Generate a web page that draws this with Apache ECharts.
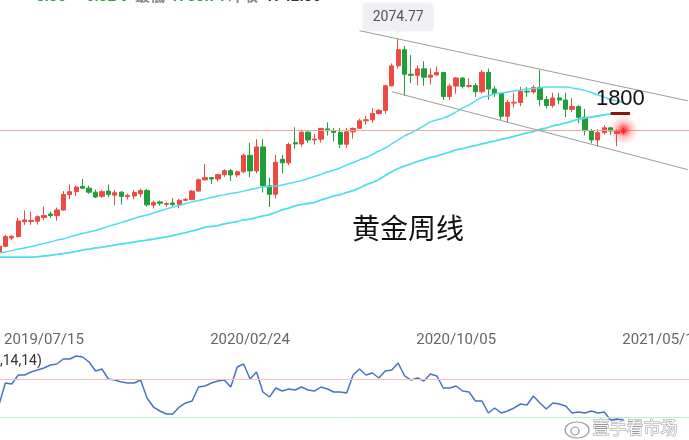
<!DOCTYPE html>
<html><head><meta charset="utf-8">
<script src="https://cdn.jsdelivr.net/npm/echarts@6/dist/echarts.min.js"></script>
<style>html,body{margin:0;padding:0;background:#fff;overflow:hidden}#c{width:689px;height:440px}</style>
</head><body><div id="c"></div>
<script>
// Weekly categories (Mondays)
const categories = [
'2019/05/27','2019/06/03','2019/06/10','2019/06/17','2019/06/24','2019/07/01','2019/07/08','2019/07/15','2019/07/22','2019/07/29',
'2019/08/05','2019/08/12','2019/08/19','2019/08/26','2019/09/02','2019/09/09','2019/09/16','2019/09/23','2019/09/30','2019/10/07',
'2019/10/14','2019/10/21','2019/10/28','2019/11/04','2019/11/11','2019/11/18','2019/11/25','2019/12/02','2019/12/09','2019/12/16',
'2019/12/23','2019/12/30','2020/01/06','2020/01/13','2020/01/20','2020/01/27','2020/02/03','2020/02/10','2020/02/17','2020/02/24',
'2020/03/02','2020/03/09','2020/03/16','2020/03/23','2020/03/30','2020/04/06','2020/04/13','2020/04/20','2020/04/27','2020/05/04',
'2020/05/11','2020/05/18','2020/05/25','2020/06/01','2020/06/08','2020/06/15','2020/06/22','2020/06/29','2020/07/06','2020/07/13',
'2020/07/20','2020/07/27','2020/08/03','2020/08/10','2020/08/17','2020/08/24','2020/08/31','2020/09/07','2020/09/14','2020/09/21',
'2020/09/28','2020/10/05','2020/10/12','2020/10/19','2020/10/26','2020/11/02','2020/11/09','2020/11/16','2020/11/23','2020/11/30',
'2020/12/07','2020/12/14','2020/12/21','2020/12/28','2021/01/04','2021/01/11','2021/01/18','2021/01/25','2021/02/01','2021/02/08',
'2021/02/15','2021/02/22','2021/03/01','2021/03/08','2021/03/15','2021/03/22','2021/03/29','2021/04/05','2021/04/12','2021/04/19',
'2021/04/26','2021/05/03','2021/05/10','2021/05/17','2021/05/24','2021/05/31','2021/06/07','2021/06/14'
];
const xTickLabels = ['2019/07/15','2020/02/24','2020/10/05','2021/05/17'];

// [open, close, low, high]
const candles = [
[1284,1305,1274,1306],[1305,1341,1302,1348],[1336,1342,1327,1347],[1341,1399,1338,1411],[1396,1403,1384,1438],
[1397,1401,1385,1433],[1398,1415,1386,1420],[1412,1419,1402,1453],[1425,1419,1411,1433],[1419,1440,1400,1449],
[1440,1497,1437,1510],[1497,1508,1480,1535],[1508,1525,1492,1531],[1527,1521,1517,1555],[1521,1506,1500,1530],
[1506,1488,1484,1516],[1491,1508,1485,1515],[1510,1497,1487,1535],[1495,1504,1458,1515],[1506,1490,1460,1510],
[1490,1494,1479,1500],[1492,1505,1480,1514],[1500,1512,1488,1519],[1512,1459,1452,1518],[1458,1468,1445,1475],
[1470,1465,1456,1475],[1461,1464,1452,1469],[1466,1460,1454,1484],[1460,1476,1446,1481],[1476,1479,1473,1485],
[1478,1510,1477,1514],[1510,1552,1508,1557],[1552,1560,1549,1611],[1560,1555,1536,1562],[1555,1571,1546,1575],
[1571,1586,1563,1591],[1586,1570,1548,1592],[1570,1582,1562,1586],[1582,1643,1577,1649],[1643,1585,1562,1689],
[1585,1674,1576,1703],[1674,1530,1505,1703],[1530,1498,1451,1560],[1498,1617,1482,1645],[1628,1615,1576,1645],
[1615,1683,1606,1690],[1690,1685,1668,1747],[1685,1729,1675,1738],[1729,1700,1689,1733],[1700,1703,1683,1722],
[1703,1743,1690,1744],[1741,1734,1716,1765],[1734,1728,1695,1744],[1728,1684,1670,1745],[1684,1730,1671,1744],
[1730,1743,1705,1746],[1743,1771,1742,1779],[1771,1775,1757,1789],[1775,1798,1763,1818],[1798,1810,1795,1815],
[1810,1901,1797,1905],[1901,1975,1899,1984],[1975,2035,1965,2074.77],[2035,1944,1863,2049],[1944,1940,1911,2015],
[1940,1964,1902,1977],[1964,1933,1901,1992],[1933,1941,1906,1966],[1941,1950,1940,1973],[1950,1861,1848,1952],
[1861,1900,1849,1908],[1900,1930,1872,1933],[1930,1899,1891,1933],[1899,1902,1894,1929],[1902,1879,1860,1911],
[1879,1951,1872,1960],[1951,1889,1850,1965],[1889,1872,1860,1900],[1872,1788,1775,1875],[1788,1839,1764,1848],
[1837,1840,1820,1875],[1839,1881,1825,1897],[1881,1878,1860,1896],[1878,1895,1871,1903],[1895,1850,1825,1959],
[1850,1828,1817,1864],[1828,1856,1820,1875],[1856,1848,1832,1875],[1848,1814,1785,1875],[1814,1824,1803,1855],
[1824,1784,1762,1829],[1784,1734,1717,1815],[1734,1700,1687,1741],[1700,1727,1676,1740],[1727,1745,1720,1755],
[1745,1733,1719,1748],[1724,1731,1677,1740],[1729,1737,1721,1745]
];

const maFast = [
1280,1284,1289,1295,1299,1304,1310,1315,1321,1328,
1332,1340,1347,1353,1358,1364,1371,1379,1386,1393,
1401,1408,1416,1421,1429,1436,1444,1451,1457,1464,
1470,1475,1481,1486,1492,1496,1501,1505,1510,1516,
1521,1525,1527,1529,1533,1538,1544,1549,1557,1564,
1572,1581,1588,1596,1607,1616,1626,1635,1646,1659,
1670,1685,1700,1715,1726,1739,1752,1767,1774,1781,
1791,1804,1819,1830,1845,1858,1863,1871,1874,1878,
1882,1885,1889,1891,1893,1897,1897,1897,1897,1893,
1889,1884,1876,1867,1859,1850,1845,1837
];
const maSlow = [
1265,1265,1265,1265,1265,1265,1267,1269,1271,1275,
1278,1282,1286,1291,1295,1299,1302,1306,1310,1314,
1317,1321,1325,1328,1332,1336,1340,1345,1351,1356,
1362,1368,1375,1379,1382,1388,1393,1397,1403,1406,
1412,1418,1423,1431,1440,1447,1455,1460,1464,1468,
1477,1484,1492,1497,1505,1512,1522,1533,1542,1553,
1568,1582,1594,1603,1611,1620,1627,1635,1640,1648,
1655,1663,1668,1674,1679,1685,1691,1696,1702,1707,
1713,1720,1726,1731,1739,1744,1752,1757,1763,1770,
1776,1781,1785,1789,1793,1796,1796,1796
];
const oscillator = [
39.4,73.7,72.1,86.1,86.1,90.8,93.9,97.0,101.7,103.2,
111.0,111.0,115.7,114.1,106.3,92.3,95.4,79.9,78.3,75.2,
73.7,73.7,78.3,50.3,36.3,30.1,25.4,25.4,36.3,42.6,
45.7,67.4,69.0,73.7,76.8,78.3,67.4,98.6,103.2,79.9,
90.8,59.7,51.9,65.9,61.2,64.3,62.8,67.4,62.8,61.2,
67.4,64.3,59.7,59.7,58.1,86.1,95.4,86.1,89.2,81.4,
92.3,93.9,104.8,84.6,78.3,81.4,76.8,87.7,84.6,65.9,
65.9,69.0,61.2,59.7,45.7,45.7,27.0,34.8,27.0,30.1,
34.8,41.0,39.4,53.4,42.6,33.2,42.6,41.0,37.9,27.0,
28.6,27.0,30.1,27.0,28.6,16.1,17.7,16.1
];
const oscBands = [80, 20];
const lastPrice = 1737.24;
const peakHigh = 2074.77;
const resistance = 1800;
const resistanceSpan = [95, 98];
const channelUpper = [[56, 2105.6], [107, 1845.3]];
const channelLower = [[61, 1879.1], [107, 1589.5]];
const headerTexts = [
  {t:'-5.56', c:'#21a33a', x:30}, {t:'-0.32%', c:'#21a33a', x:80}, {t:'最低', c:'#888', x:135},
  {t:'1733.71', c:'#21a33a', x:170}, {t:'昨收', c:'#888', x:228}, {t:'1742.80', c:'#333', x:265}
];

const RED = '#ec4a43', GREEN = '#1f9e3a', CYAN = '#4fdfe9';
const chart = echarts.init(document.getElementById('c'), null, {renderer:'canvas', devicePixelRatio:1});
const gridL = -4.3, gridW = 695.5;

const graphics = [
  {type:'text', left:352, top:214, style:{text:'黄金周线', fill:'#111', font:'28px "Noto Sans CJK SC", sans-serif'}},
  {type:'text', left:0, top:354, style:{text:',14,14)', fill:'#333', font:'14px Roboto, sans-serif'}},
  {type:'ellipse', shape:{cx:577, cy:430, rx:12, ry:8}, style:{fill:'rgba(255,255,255,0.85)', stroke:'rgba(110,110,110,0.7)', lineWidth:1.2}},
  {type:'circle', shape:{cx:575, cy:431, r:4}, style:{fill:'none', stroke:'rgba(110,110,110,0.7)', lineWidth:1.2}},
  {type:'text', left:592, top:419, style:{text:'壹手看市场', fill:'rgba(255,255,255,0.9)', stroke:'rgba(120,120,120,0.75)', lineWidth:1, font:'17px "Noto Sans CJK SC", sans-serif'}}
];
headerTexts.forEach(h => graphics.push({type:'text', left:h.x, top:-10, style:{text:h.t, fill:h.c, font:'bold 15px Roboto, "Noto Sans CJK SC", sans-serif'}}));

chart.setOption({
  animation:false,
  backgroundColor:'#fff',
  grid:[
    {left:gridL, width:gridW, top:0, height:330, containLabel:false, outerBoundsMode:'none'},
    {left:gridL, width:gridW, top:350, height:90, containLabel:false, outerBoundsMode:'none'}
  ],
  xAxis:[
    {type:'category', gridIndex:0, data:categories, boundaryGap:true,
     axisLine:{show:false}, axisTick:{show:false}, splitLine:{show:false},
     axisLabel:{interval:(i,v)=>xTickLabels.includes(v), color:'#666', fontSize:15, margin:3, fontFamily:'Roboto, sans-serif', hideOverlap:false}},
    {type:'category', gridIndex:1, data:categories, boundaryGap:true,
     axisLine:{show:false}, axisTick:{show:false}, axisLabel:{show:false}, splitLine:{show:false}}
  ],
  yAxis:[
    {type:'value', gridIndex:0, min:994.3, max:2219.6, show:false, splitLine:{show:false}},
    {type:'value', gridIndex:1, min:-15, max:125, show:false, splitLine:{show:false}}
  ],
  graphic: graphics,
  series:[
    {type:'candlestick', xAxisIndex:0, yAxisIndex:0, data:candles, barWidth:4.8,
     itemStyle:{color:RED, color0:GREEN, borderColor:RED, borderColor0:GREEN, borderWidth:1},
     markLine:{silent:true, symbol:'none', animation:false,
       data:[
         {yAxis:lastPrice, lineStyle:{color:'#f8a3a3', width:1, type:'solid'}, label:{show:false}},
         [{coord:[channelUpper[0][0], channelUpper[0][1]], lineStyle:{color:'#9c9c9c', width:1, type:'solid'}, label:{show:false}}, {coord:[channelUpper[1][0], channelUpper[1][1]]}],
         [{coord:[channelLower[0][0], channelLower[0][1]], lineStyle:{color:'#9c9c9c', width:1, type:'solid'}, label:{show:false}}, {coord:[channelLower[1][0], channelLower[1][1]]}],
         [{coord:[resistanceSpan[0], resistance], lineStyle:{color:'#8a1414', width:3, type:'solid'},
           label:{show:true, formatter:String(resistance), position:'insideMiddleTop', distance:3, color:'#111', fontSize:22, fontFamily:'Liberation Sans, Arial, sans-serif'}},
          {coord:[resistanceSpan[1], resistance]}]
       ]},
     markPoint:{silent:true, animation:false,
       data:[{coord:[62, peakHigh], value:peakHigh}],
       symbol:'path://M3,0 H67 Q70,0 70,3 V24 Q70,27 67,27 H38 L35,30 L32,27 H3 Q0,27 0,24 V3 Q0,0 3,0 Z',
       symbolSize:[70,30], symbolOffset:[0,-20.5], symbolKeepAspect:false,
       itemStyle:{color:'#eef0f3', shadowColor:'rgba(0,0,0,0.08)', shadowBlur:3},
       label:{show:true, formatter:String(peakHigh), color:'#555', fontSize:14, fontFamily:'Roboto, sans-serif', offset:[0,-1.5]}}
    },
    {type:'line', xAxisIndex:0, yAxisIndex:0, data:maFast, smooth:true, symbol:'none', lineStyle:{color:CYAN, width:1.5}, z:3},
    {type:'line', xAxisIndex:0, yAxisIndex:0, data:maSlow, smooth:true, symbol:'none', lineStyle:{color:CYAN, width:1.8}, z:3},
    {type:'scatter', xAxisIndex:0, yAxisIndex:0, data:[[97, lastPrice]], symbolSize:30, z:5, silent:true,
     itemStyle:{color:{type:'radial', x:0.5, y:0.5, r:0.5, colorStops:[
       {offset:0, color:'rgba(255,20,20,1)'}, {offset:0.2, color:'rgba(255,30,30,0.85)'},
       {offset:0.5, color:'rgba(255,60,60,0.35)'}, {offset:1, color:'rgba(255,80,80,0)'}]}}},
    {type:'line', xAxisIndex:1, yAxisIndex:1, data:oscillator, symbol:'none', smooth:false,
     lineStyle:{color:'#4a72c8', width:1.5},
     markLine:{silent:true, symbol:'none', animation:false, label:{show:false},
       data:[{yAxis:oscBands[0], lineStyle:{color:'#f6c0c0', width:1, type:'solid'}},
             {yAxis:oscBands[1], lineStyle:{color:'#c6ecc6', width:1, type:'solid'}}]}}
  ]
});
</script>
</body></html>
